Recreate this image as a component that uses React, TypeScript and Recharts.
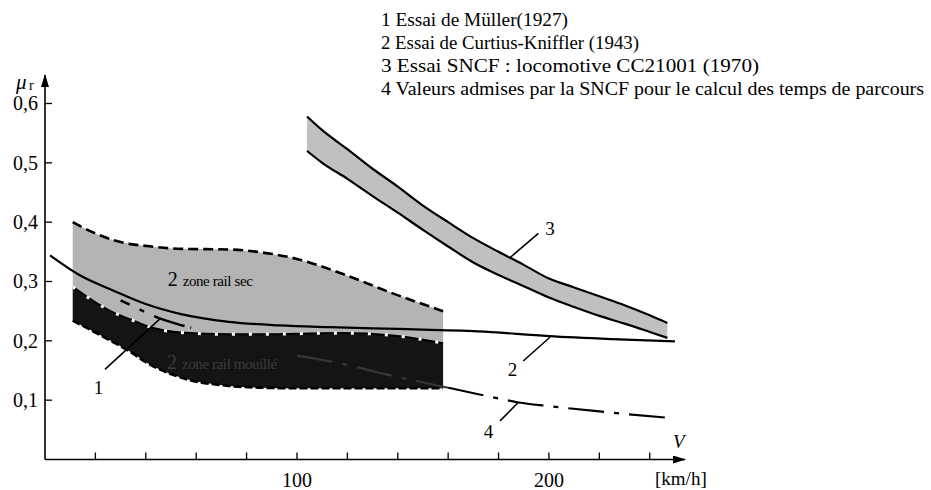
import React from "react";
import { ComposedChart, Area, Line, XAxis, YAxis, ReferenceLine, ReferenceDot } from "recharts";

const SERIF = "Liberation Serif, DejaVu Serif, serif";
const serif = { fontFamily: SERIF };

// zone 2 (Curtius-Kniffler): rail sec (top..mid) / rail mouillé (mid..bot)
const zoneV = [11, 20, 27, 34, 40, 54, 73, 86, 100, 118, 138, 158];
const zoneTop = [0.4, 0.381, 0.37, 0.363, 0.36, 0.355, 0.354, 0.349, 0.338, 0.313, 0.28, 0.25];
const zoneMid = [0.291, 0.265, 0.248, 0.236, 0.2255, 0.214, 0.211, 0.211, 0.212, 0.213, 0.209, 0.196];
const zoneBot = [0.234, 0.214, 0.198, 0.181, 0.164, 0.138, 0.124, 0.121, 0.12, 0.12, 0.12, 0.12];

// 1 Müller (1927)
const mullerV = [30, 35, 40, 46, 52, 58];
const mullerMu = [0.268, 0.258, 0.248, 0.237, 0.229, 0.222];

// 2 Curtius-Kniffler (1943)
const ckV = [2, 14, 27, 40, 54, 73, 93, 113, 140, 172, 200, 225, 250];
const ckMu = [0.344, 0.31, 0.285, 0.262, 0.245, 0.232, 0.226, 0.223, 0.22, 0.216, 0.208, 0.203, 0.199];

// 3 SNCF CC21001 (1970), band
const sncfV = [104, 110, 120, 130, 140, 150, 160, 170, 180, 190, 200, 210, 220, 230, 240, 247];
const sncfHi = [0.578, 0.555, 0.523, 0.49, 0.46, 0.428, 0.4, 0.373, 0.35, 0.328, 0.305, 0.29, 0.275, 0.26, 0.243, 0.23];
const sncfLo = [0.52, 0.5, 0.473, 0.444, 0.416, 0.387, 0.359, 0.332, 0.311, 0.292, 0.273, 0.257, 0.242, 0.229, 0.215, 0.205];

// 4 valeurs admises SNCF
const admV = [100, 116, 138, 160, 172, 181, 188, 200, 220, 248];
const admMu = [0.175, 0.163, 0.141, 0.121, 0.11, 0.102, 0.096, 0.09, 0.081, 0.07];

const xTicks = [20, 40, 60, 80, 100, 120, 140, 160, 180, 200, 220, 240];
const xLabeled = [100, 200];
const yTicks = [0.1, 0.2, 0.3, 0.4, 0.5, 0.6];

const legendLines = [
  "1 Essai de Müller(1927)",
  "2 Essai de Curtius-Kniffler (1943)",
  "3 Essai SNCF : locomotive CC21001 (1970)",
  "4 Valeurs admises par la SNCF pour le calcul des temps de parcours",
];
const legendWidths = [187, 258, 378, 543];

// leader lines: [v, mu] from / to, and the number's centre
const leaders = [
  { n: "1", from: [23.8, 0.152], to: [45.6, 0.237], at: [21.2, 0.1216] },
  { n: "2", from: [189.8, 0.166], to: [200.4, 0.206], at: [185.5, 0.152] },
  { n: "3", from: [184.5, 0.34], to: [195.8, 0.381], at: [200.4, 0.39] },
  { n: "4", from: [180.6, 0.065], to: [187.8, 0.096], at: [176, 0.0465] },
];

const zoneData = zoneV.map((v, i) => ({
  v,
  top: zoneTop[i],
  mid: zoneMid[i],
  bot: zoneBot[i],
  sec: [zoneMid[i], zoneTop[i]],
  wet: [zoneBot[i], zoneMid[i]],
}));
const mullerData = mullerV.map((v, i) => ({ v, mu: mullerMu[i] }));
const ckData = ckV.map((v, i) => ({ v, mu: ckMu[i] }));
const sncfData = sncfV.map((v, i) => ({ v, hi: sncfHi[i], lo: sncfLo[i], band: [sncfLo[i], sncfHi[i]] }));
const admData = admV.map((v, i) => ({ v, mu: admMu[i] }));
const admIn = admData.filter((d) => d.v <= 160);
const admOut = admData.filter((d) => d.v >= 160);

const fmt = (n: number) => String(n).replace(".", ",");

function XTick(p: any) {
  const { x, y, payload } = p;
  return (
    <g>
      <line x1={x} x2={x} y1={y} y2={y - 7} stroke="#000" strokeWidth={1.3} />
      {xLabeled.includes(payload.value) && (
        <text x={x} y={y + 27.5} textAnchor="middle" fontSize={20} style={serif} fill="#000">
          {payload.value}
        </text>
      )}
    </g>
  );
}

function YTick(p: any) {
  const { x, y, payload } = p;
  return (
    <g>
      <line x1={x} x2={x + 7} y1={y} y2={y} stroke="#000" strokeWidth={1.3} />
      <text x={x - 7} y={y + 6.8} textAnchor="end" fontSize={20} style={serif} fill="#000">
        {fmt(payload.value)}
      </text>
    </g>
  );
}

const numText = (n: string) => (p: any) => (
  <text x={p.cx} y={p.cy + 6.5} textAnchor="middle" fontSize={19} style={serif} fill="#000">
    {n}
  </text>
);

const zoneText = (label: string, color: string) => (p: any) => (
  <text x={p.cx} y={p.cy + 5} textAnchor="middle" style={serif} fill={color}>
    <tspan fontSize={20}>2 </tspan>
    <tspan fontSize={15} letterSpacing={-0.4}>{label}</tspan>
  </text>
);

export default function App() {
  return (
    <div style={{ position: "absolute", left: 0, top: 0, width: 931, height: 490, background: "#fff", fontFamily: SERIF }}>
      <ComposedChart width={931} height={490} margin={{ top: 75, right: 246, bottom: 0.5, left: 5 }}>
        <defs>
          <marker id="arr" viewBox="0 0 13 8" refX="12" refY="4" markerWidth="13" markerHeight="8" markerUnits="userSpaceOnUse" orient="auto-start-reverse">
            <path d="M0,0 L13,4 L0,8 z" fill="#000" />
          </marker>
        </defs>
        <XAxis
          dataKey="v"
          type="number"
          domain={[0, 254]}
          allowDataOverflow
          ticks={xTicks}
          interval={0}
          height={30}
          tickSize={0}
          tickMargin={0}
          tickLine={false}
          axisLine={{ stroke: "#000", strokeWidth: 1.6, markerEnd: "url(#arr)" }}
          tick={(p: any) => <XTick {...p} />}
        />
        <YAxis
          type="number"
          domain={[0, 0.648]}
          allowDataOverflow
          ticks={yTicks}
          interval={0}
          width={40}
          tickSize={0}
          tickMargin={0}
          tickLine={false}
          axisLine={{ stroke: "#000", strokeWidth: 1.6, markerStart: "url(#arr)" }}
          tick={(p: any) => <YTick {...p} />}
        />

        <Area data={zoneData} dataKey="sec" type="monotone" fill="#b4b4b4" fillOpacity={1} stroke="none" isAnimationActive={false} />
        <Area data={zoneData} dataKey="wet" type="monotone" fill="#141414" fillOpacity={1} stroke="none" isAnimationActive={false} />
        <Area data={sncfData} dataKey="band" type="monotone" fill="#c0c0c0" fillOpacity={1} stroke="none" isAnimationActive={false} />

        <Line data={zoneData} dataKey="top" type="monotone" stroke="#000" strokeWidth={2.6} strokeDasharray="10 5" dot={false} activeDot={false} isAnimationActive={false} />
        <Line data={zoneData} dataKey="bot" type="monotone" stroke="#000" strokeWidth={2.6} strokeDasharray="8 3" dot={false} activeDot={false} isAnimationActive={false} />
        <Line data={admIn} dataKey="mu" type="monotone" stroke="#363636" strokeWidth={2.2} strokeDasharray="36 10 5 10" dot={false} activeDot={false} isAnimationActive={false} />
        <Line data={zoneData} dataKey="mid" type="monotone" stroke="#000" strokeWidth={2} dot={false} activeDot={false} isAnimationActive={false} />
        <Line data={zoneData} dataKey="mid" type="monotone" stroke="#fff" strokeWidth={3} strokeDasharray="3 14" dot={false} activeDot={false} isAnimationActive={false} />

        <Line data={ckData} dataKey="mu" type="monotone" stroke="#000" strokeWidth={2.2} dot={false} activeDot={false} isAnimationActive={false} />
        <Line data={mullerData} dataKey="mu" type="monotone" stroke="#000" strokeWidth={2.5} strokeDasharray="10 11 5 11 32 6" dot={false} activeDot={false} isAnimationActive={false} />
        <Line data={sncfData} dataKey="hi" type="monotone" stroke="#000" strokeWidth={2.2} dot={false} activeDot={false} isAnimationActive={false} />
        <Line data={sncfData} dataKey="lo" type="monotone" stroke="#000" strokeWidth={2.2} dot={false} activeDot={false} isAnimationActive={false} />
        <Line data={admOut} dataKey="mu" type="monotone" stroke="#000" strokeWidth={2.2} strokeDasharray="36 10 5 10" dot={false} activeDot={false} isAnimationActive={false} />

        {leaders.map((l) => (
          <ReferenceLine
            key={"l" + l.n}
            segment={[{ x: l.from[0], y: l.from[1] }, { x: l.to[0], y: l.to[1] }]}
            stroke="#000"
            strokeWidth={1.6}
          />
        ))}
        {leaders.map((l) => (
          <ReferenceDot key={"n" + l.n} x={l.at[0]} y={l.at[1]} r={0} shape={numText(l.n)} />
        ))}
        <ReferenceDot x={65.5} y={0.3} r={0} shape={zoneText("zone rail sec", "#000")} />
        <ReferenceDot x={70.2} y={0.161} r={0} shape={zoneText("zone rail mouillé", "#3c3c3c")} />
      </ComposedChart>

      <svg width={931} height={490} style={{ position: "absolute", left: 0, top: 0, pointerEvents: "none", fontFamily: SERIF }}>
        {legendLines.map((t, i) => (
          <text
            key={i}
            x={381}
            y={25.5 + i * 23}
            fontSize={19}
            fill="#000"
            style={serif}
            textLength={legendWidths[i]}
            lengthAdjust="spacingAndGlyphs"
          >
            {t}
          </text>
        ))}
        <text x={16} y={89} fontSize={21} fontStyle="italic" fill="#000" style={serif}>μ</text>
        <text x={29} y={90} fontSize={14} fill="#000" style={serif}>r</text>
        <text x={673} y={448} fontSize={19} fontStyle="italic" fill="#000" style={serif}>V</text>
        <text x={655} y={485} fontSize={19} fill="#000" style={serif}>[km/h]</text>
      </svg>
    </div>
  );
}
